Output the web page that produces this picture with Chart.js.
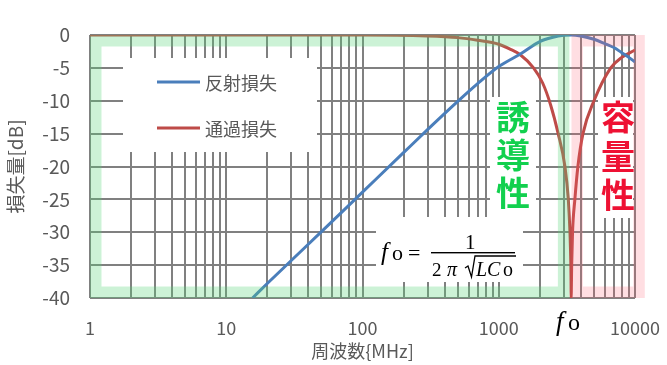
<!DOCTYPE html>
<html>
<head>
<meta charset="utf-8">
<script src="https://cdn.jsdelivr.net/npm/chart.js@4.4.0/dist/chart.umd.min.js"></script>
<style>
  html, body { margin: 0; padding: 0; background: #fff; }
</style>
</head>
<body>
<canvas id="myLossChart" width="667" height="365"></canvas>
<script>
// frequency [MHz] / loss [dB]
const freqReflect = [15.6, 20, 30, 50, 100, 200, 300, 500, 700, 1000, 1440, 2000, 2500, 3000, 3400, 4000, 5000, 6000, 7000, 8000, 9000, 10000];
const lossReflect = [-40, -37.8, -34.3, -29.9, -23.9, -17.9, -14.4, -10.1, -7.4, -4.8, -2.9, -1.0, -0.35, -0.05, 0, -0.15, -0.65, -1.3, -1.9, -2.7, -3.4, -4.1];
const freqThrough = [1, 10, 100, 300, 500, 700, 1000, 1200, 1440, 1800, 2100, 2400, 2730, 3060, 3240, 3330, 3380, 3400, 3430, 3480, 3620, 3810, 4150, 5000, 6640, 8000, 10000];
const lossThrough = [0, 0, 0, -0.15, -0.4, -0.8, -1.4, -2.1, -3.0, -5.0, -7.3, -10.6, -15, -20, -25, -30, -35, -40, -35, -30, -25, -20, -15, -10, -5, -3.4, -2.3];
const seriesNames = ["反射損失", "通過損失"];

const xTickLabels = ["1", "10", "100", "1000", "10000"];
const xGridValues = [1, 2, 3, 4, 5, 6, 7, 8, 9, 10, 20, 30, 40, 50, 60, 70, 80, 90,
  100, 200, 300, 400, 500, 600, 700, 800, 900, 1000, 2000, 3000, 4000, 5000, 6000, 7000, 8000, 9000, 10000];
const yTickStep = 5;

const GRID = "#808080";
const TEXT = "#595959";
Chart.defaults.font.family = '"Noto Sans CJK JP", "Noto Sans", sans-serif';
Chart.defaults.color = TEXT;

const toPoints = (xs, ys) => xs.map((x, i) => ({ x: x, y: ys[i] }));

// decorations: legend box, regions, labels, formula
const decorPlugin = {
  id: "decor",
  beforeDatasetsDraw(chart) {
    const c = chart.ctx;
    c.save();
    c.fillStyle = "#fff";
    c.fillRect(123, 58, 194, 94);   // legend
    c.fillRect(376, 217, 147, 65);  // formula
    c.fillRect(490, 97, 46, 121);   // 誘導性
    c.fillRect(598, 97, 35, 121);   // 容量性
    c.restore();
  },
  afterDatasetsDraw(chart) {
    const c = chart.ctx;
    const xs = chart.scales.x;
    const a = chart.chartArea;
    c.save();
    // inductive / capacitive regions
    const band = (x0, x1, color) => {
      const w = 11.5;
      c.strokeStyle = color;
      c.lineWidth = w;
      c.strokeRect(x0 + w / 2, a.top + w / 2, x1 - x0 - w, a.bottom - a.top - w);
    };
    band(xs.getPixelForValue(1), xs.getPixelForValue(3300), "rgba(85, 212, 118, 0.3)");
    band(xs.getPixelForValue(3420), xs.getPixelForValue(11800), "rgba(255, 90, 110, 0.2)");

    // legend
    c.font = '18px "Noto Sans CJK JP"';
    c.textBaseline = "middle";
    chart.data.datasets.forEach((ds, i) => {
      const y = 82 + i * 46;
      c.strokeStyle = ds.borderColor;
      c.lineWidth = 3;
      c.beginPath();
      c.moveTo(157, y);
      c.lineTo(200, y);
      c.stroke();
      c.fillStyle = TEXT;
      c.fillText(ds.label, 205, y + 1);
    });

    // vertical region labels
    c.font = 'bold 34px "Noto Sans CJK JP"';
    c.textAlign = "center";
    c.fillStyle = "#12d04e";
    ["誘", "導", "性"].forEach((ch, i) => c.fillText(ch, 513, 117 + i * 38));
    c.fillStyle = "#ee1133";
    ["容", "量", "性"].forEach((ch, i) => c.fillText(ch, 618, 117 + i * 39));

    // formula f0 = 1 / (2 pi sqrt(LCo))
    c.textAlign = "left";
    c.textBaseline = "alphabetic";
    c.fillStyle = "#000";
    c.font = 'italic 25px "Liberation Serif"';
    c.fillText("f", 381, 260);
    c.font = '22px "Liberation Serif"';
    c.fillText("o", 392, 260);
    c.fillText("=", 408, 260);
    c.fillRect(431, 252, 84, 1.4);
    c.font = '21px "Liberation Serif"';
    c.fillText("1", 465, 249);
    c.font = '19px "Liberation Serif"';
    c.fillText("2", 432, 276);
    c.font = 'italic 20px "Liberation Serif"';
    c.fillText("π", 447, 276);
    // radical sign
    c.strokeStyle = "#000";
    c.lineWidth = 1.3;
    c.beginPath();
    c.moveTo(465, 268);
    c.lineTo(468, 266);
    c.lineTo(471.5, 277);
    c.lineTo(475, 256);
    c.lineTo(516, 256);
    c.stroke();
    c.font = 'italic 20px "Liberation Serif"';
    c.fillText("L", 476, 276);
    c.fillText("C", 487, 276);
    c.font = '20px "Liberation Serif"';
    c.fillText("o", 503, 276);

    // f0 under the axis
    c.font = 'italic 27px "Liberation Serif"';
    c.fillText("f", 556, 330);
    c.font = '24px "Liberation Serif"';
    c.fillText("o", 568, 330);
    c.restore();
  }
};

const ctx = document.getElementById("myLossChart").getContext("2d");
const myLossChart = new Chart(ctx, {
  type: "line",
  data: {
    datasets: [
      {
        label: seriesNames[0],
        data: toPoints(freqReflect, lossReflect),
        borderColor: "#4a7ebb",
        borderWidth: 3,
        pointRadius: 0,
        cubicInterpolationMode: "monotone",
      },
      {
        label: seriesNames[1],
        data: toPoints(freqThrough, lossThrough),
        borderColor: "#be4b48",
        borderWidth: 3,
        pointRadius: 0,
        cubicInterpolationMode: "monotone",
      },
    ],
  },
  options: {
    responsive: false,
    animation: false,
    layout: { padding: { left: 0, top: 35, right: 32, bottom: 0 } },
    plugins: {
      legend: { display: false },
      tooltip: { enabled: false },
    },
    scales: {
      x: {
        type: "logarithmic",
        min: 1,
        max: 10000,
        afterBuildTicks: (scale) => {
          scale.ticks = xGridValues.map((v) => ({ value: v }));
        },
        afterFit: (scale) => {
          scale.height = 67;
          scale.paddingLeft = 0;
          scale.paddingRight = 0;
        },
        ticks: {
          autoSkip: false,
          maxRotation: 0,
          padding: 19,
          font: { size: 18 },
          callback: (value) => (xTickLabels.includes(String(value)) ? String(value) : ""),
        },
        grid: { color: GRID, lineWidth: 2, drawTicks: false },
        border: { display: false },
        title: { display: true, text: "周波数{MHz]", font: { size: 18 }, padding: { top: 0, bottom: 3 } },
      },
      y: {
        min: -40,
        max: 0,
        afterFit: (scale) => {
          scale.width = 90;
          scale.paddingTop = 0;
          scale.paddingBottom = 0;
        },
        ticks: { stepSize: yTickStep, padding: 20, font: { size: 19 } },
        grid: { color: GRID, lineWidth: 2, drawTicks: false },
        border: { display: false },
        title: { display: true, text: "損失量[dB]", font: { size: 19 }, padding: { top: 4, bottom: 0 } },
      },
    },
  },
  plugins: [decorPlugin],
});
</script>
</body>
</html>
